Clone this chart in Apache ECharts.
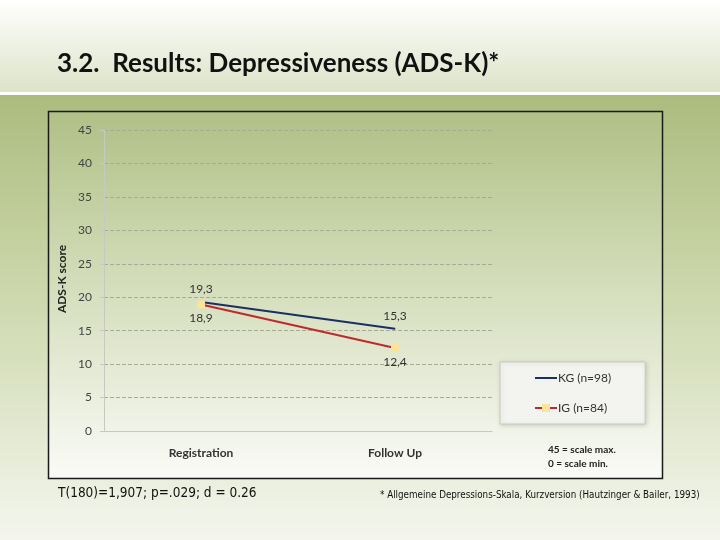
<!DOCTYPE html>
<html><head><meta charset="utf-8">
<script src="https://cdn.jsdelivr.net/npm/echarts@6/dist/echarts.min.js"></script>
<style>html,body{margin:0;padding:0;background:#fff}#c{width:720px;height:540px}</style>
</head><body><div id="c"></div>
<script>
const categories = ['Registration', 'Follow Up'];
const kgValues = [19.3, 15.3];
const igValues = [18.9, 12.4];
const seriesNames = ['KG (n=98)', 'IG (n=84)'];
const yTicks = { min: 0, max: 45, interval: 5 };

const chart = echarts.init(document.getElementById('c'));
const fmt = p => String(p.value).replace('.', ',');
chart.setOption({
  animation: false,
  graphic: [
    { type: 'rect', z: -10, shape: { x: 0, y: 0, width: 720, height: 92 },
      style: { fill: new echarts.graphic.LinearGradient(0, 0, 0, 1, [{offset: 0, color: '#ffffff'}, {offset: 1, color: '#dce3c8'}]) } },
    { type: 'rect', z: -10, shape: { x: 0, y: 95, width: 720, height: 445 },
      style: { fill: new echarts.graphic.LinearGradient(0, 0, 0, 1, [{offset: 0, color: '#acbc7e'}, {offset: 0.45, color: '#cdd8ad'}, {offset: 1, color: '#f4f6ee'}]) } },
    { type: 'rect', z: -9, shape: { x: 48.5, y: 111.5, width: 614, height: 367 },
      style: { fill: new echarts.graphic.LinearGradient(0, 0, 0, 1, [{offset: 0, color: '#b0c086'}, {offset: 0.5, color: '#d6dfbe'}, {offset: 1, color: '#fafbf7'}]), stroke: '#1a1a1a', lineWidth: 1.5 } },
    { type: 'text', left: 57, top: 51, style: { text: '3.2.  Results: Depressiveness (ADS-K)*', font: 'bold 26px Lato, sans-serif', fill: '#111' } },
    { type: 'text', left: 58, top: 486, style: { text: 'T(180)=1,907; p=.029; d = 0.26', font: '13.5px "DejaVu Sans Condensed", sans-serif', fill: '#111' } },
    { type: 'text', left: 380, top: 490, style: { text: '* Allgemeine Depressions-Skala, Kurzversion (Hautzinger & Bailer, 1993)', font: '9.75px "DejaVu Sans Condensed", sans-serif', fill: '#111' } },
    { type: 'text', left: 548, top: 443, style: { text: '45 = scale max.\n0 = scale min.', font: 'bold 10px Lato, sans-serif', fill: '#222', lineHeight: 14 } },
    { type: 'text', x: 62, y: 279, rotation: Math.PI / 2,
      style: { text: 'ADS-K score', font: 'bold 12px Lato, sans-serif', fill: '#222', align: 'center', verticalAlign: 'middle' } }
  ],
  grid: { left: 104, right: 228, top: 130, bottom: 109 },
  legend: {
    orient: 'vertical', left: 500, top: 362,
    padding: [10, 34, 10, 34], itemGap: 18, itemWidth: 22, itemHeight: 10,
    backgroundColor: '#f3f4ef', borderColor: '#c8cabd', borderWidth: 1,
    shadowColor: 'rgba(0,0,0,0.15)', shadowBlur: 4, shadowOffsetX: 1, shadowOffsetY: 1,
    textStyle: { fontFamily: 'Lato, sans-serif', fontSize: 12, color: '#333', padding: [0, 0, 0, -4] },
    data: [
      { name: seriesNames[0], icon: 'path://M0,0 L22,0 L22,2 L0,2 Z', itemStyle: { color: '#1c2f63' } },
      { name: seriesNames[1] }
    ]
  },
  xAxis: {
    type: 'category', data: categories, boundaryGap: true,
    axisLine: { lineStyle: { color: '#c8c8c0' } },
    axisTick: { show: false },
    axisLabel: { margin: 16, fontFamily: 'Lato, sans-serif', fontWeight: 'bold', fontSize: 12, color: '#333' }
  },
  yAxis: {
    type: 'value', min: yTicks.min, max: yTicks.max, interval: yTicks.interval,
    axisLine: { show: true, lineStyle: { color: '#c8c8c0' } },
    axisTick: { show: true, inside: false, length: 4, lineStyle: { color: '#c8c8c0' } },
    axisLabel: { margin: 12, fontFamily: 'Lato, sans-serif', fontSize: 12, color: '#444' },
    splitLine: { lineStyle: { type: 'dashed', color: '#a8aa98', width: 1 } }
  },
  series: [
    { name: seriesNames[0], type: 'line', data: kgValues, symbol: 'circle', symbolSize: 1, showSymbol: true,
      lineStyle: { color: '#1c2f63', width: 2 }, itemStyle: { color: '#1c2f63' },
      label: { show: true, position: 'top', distance: 6, formatter: fmt, fontFamily: 'Lato, sans-serif', fontSize: 12, color: '#333' } },
    { name: seriesNames[1], type: 'line', data: igValues, symbol: 'rect', symbolSize: 8,
      lineStyle: { color: '#c0282d', width: 2 }, itemStyle: { color: '#fbe39a', borderWidth: 0 },
      label: { show: true, position: 'bottom', distance: 4, formatter: fmt, fontFamily: 'Lato, sans-serif', fontSize: 12, color: '#333' } }
  ]
});
</script></body></html>
